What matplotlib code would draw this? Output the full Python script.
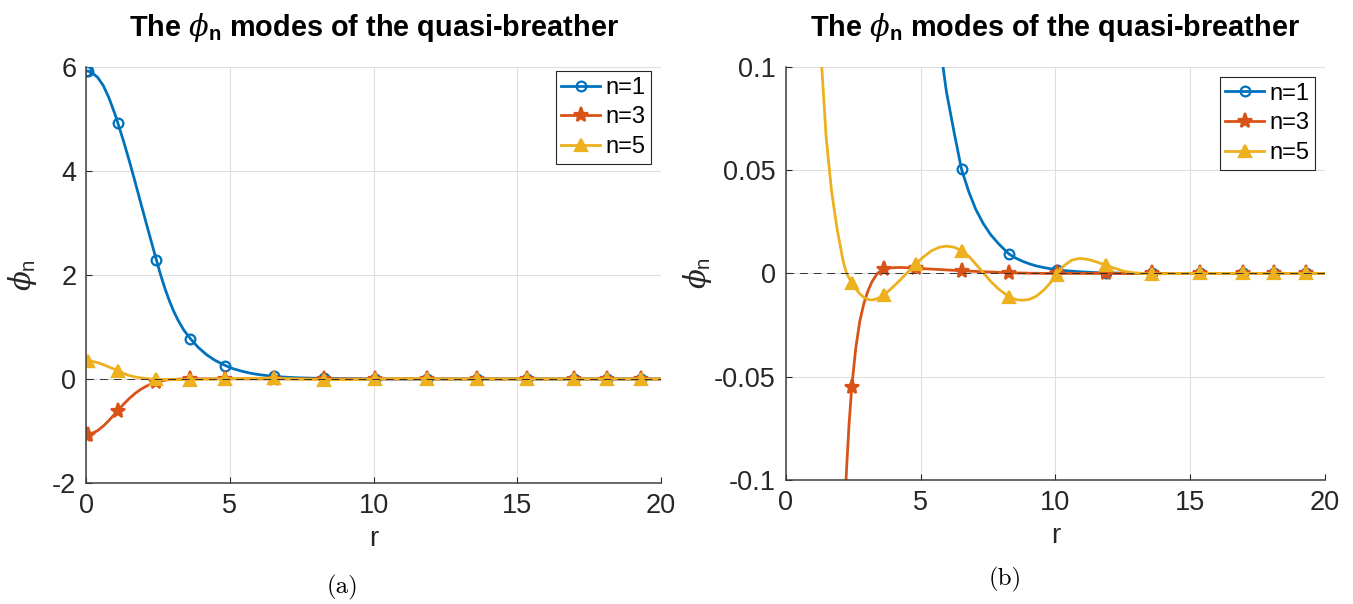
import numpy as np
import matplotlib
matplotlib.use("Agg")
import matplotlib.pyplot as plt

plt.rcParams["font.family"] = ["Liberation Sans", "DejaVu Sans"]
plt.rcParams["mathtext.fontset"] = "custom"
plt.rcParams["mathtext.rm"] = "Liberation Sans"
plt.rcParams["mathtext.it"] = "DejaVu Serif:italic"
plt.rcParams["mathtext.bf"] = "Liberation Sans:bold"
plt.rcParams["axes.unicode_minus"] = False

# radial grid and mode values
r = [0, 0.06, 0.2, 0.4, 0.6, 0.8, 1.0, 1.1, 1.3, 1.5, 1.7, 1.9, 2.1, 2.16,
     2.26, 2.35, 2.45, 2.6, 2.75, 2.9, 3.05, 3.2, 3.4, 3.63, 3.9, 4.2, 4.48,
     4.85, 5.1, 5.4, 5.7, 5.96, 6.25, 6.52, 6.8, 7.05, 7.32, 7.6, 7.9, 8.28,
     8.55, 8.8, 9.05, 9.3, 9.55, 9.8, 10.05, 10.3, 10.6, 10.9, 11.2, 11.5,
     11.87, 12.2, 12.5, 12.9, 13.6, 14.5, 15.35, 16.97, 18.12, 19.3, 20]

phi1 = [5.92, 5.92, 5.89, 5.80, 5.64, 5.40, 5.10, 4.93, 4.58, 4.20, 3.80, 3.39,
        2.98, 2.86, 2.66, 2.48, 2.28, 1.99, 1.73, 1.50, 1.30, 1.13, 0.94, 0.775,
        0.608, 0.463, 0.36, 0.257, 0.2, 0.152, 0.113, 0.088, 0.068, 0.0504,
        0.0392, 0.031, 0.0243, 0.0188, 0.0143, 0.0094, 0.0073, 0.0058, 0.0046,
        0.0036, 0.0029, 0.0023, 0.0018, 0.0014, 0.0011, 0.0008, 0.0006, 0.0004,
        0.0003, 0.0002, 0.0001, 0.0, 0.0, 0.0, 0.0, 0.0, 0.0, 0.0, 0.0]

phi3 = [-1.07, -1.07, -1.05, -0.993, -0.905, -0.795, -0.673, -0.61, -0.488,
        -0.377, -0.28, -0.2, -0.138, -0.122, -0.094, -0.073, -0.055, -0.036,
        -0.023, -0.0145, -0.0085, -0.004, 0.0, 0.002, 0.0027, 0.0029, 0.0028,
        0.0025, 0.0023, 0.0021, 0.0019, 0.0017, 0.0015, 0.0013, 0.0011, 0.001,
        0.0008, 0.0007, 0.0005, 0.0003, 0.0002, 0.0002, 0.0001, 0.0001, 0.0,
        0.0, 0.0, 0.0, 0.0, 0.0, 0.0, 0.0, 0.0, 0.0, 0.0, 0.0, 0.0, 0.0, 0.0,
        0.0, 0.0, 0.0, 0.0]

phi5 = [0.35, 0.35, 0.34, 0.315, 0.275, 0.23, 0.185, 0.16, 0.108, 0.066, 0.04,
        0.022, 0.008, 0.0045, 0.0, -0.0022, -0.0045, -0.0075, -0.0099, -0.0116,
        -0.0126, -0.0129, -0.0122, -0.0105, -0.0075, -0.0038, 0.0, 0.0048,
        0.0079, 0.0109, 0.0127, 0.0132, 0.0127, 0.011, 0.0082, 0.0045, 0.0005,
        -0.0038, -0.0076, -0.0113, -0.0127, -0.013, -0.0125, -0.011, -0.0083,
        -0.0048, -0.0006, 0.0035, 0.0064, 0.0073, 0.0068, 0.0057, 0.004, 0.0025,
        0.0012, 0.0003, -0.0003, 0.0, 0.0, 0.0, 0.0, 0.0, 0.0]

r_marks = [0, 0.06, 1.1, 2.45, 3.63, 4.85, 6.52, 8.28, 10.05, 11.87, 13.6,
           15.35, 16.97, 18.12, 19.3]

labels = ["n=1", "n=3", "n=5"]
colors = ["#0072BD", "#D95319", "#EDB120"]

mark_idx = [int(i) for i in np.where(np.isin(r, r_marks))[0]]
title = r"The $\phi_{\mathbf{n}}$ modes of the quasi-breather"
axis_col = "#262626"

fig = plt.figure(figsize=(13.53, 6.04), dpi=100)
ax_a = fig.add_axes([0.0636, 0.2003, 0.425, 0.689])
ax_b = fig.add_axes([0.5807, 0.2053, 0.3986, 0.684])


def style_axis(ax, ylim, yticks, yticklabels, leg_anchor, ylab_x, xlab_y):
    series = [(phi1, "o", 7, "none"), (phi3, "*", 11, None), (phi5, "^", 8, None)]
    for (vals, mk, ms, mfc), lab, col in zip(series, labels, colors):
        ax.plot(r, vals, color=col, lw=2.0, marker=mk, ms=ms,
                mfc=col if mfc is None else mfc, mew=1.6, markevery=mark_idx,
                label=lab)
    ax.axhline(0, color="#333333", lw=0.7, dashes=(8, 6), zorder=5)

    ax.set_xlim(0, 20)
    ax.set_ylim(*ylim)
    ax.set_xticks([0, 5, 10, 15, 20])
    ax.set_yticks(yticks)
    ax.set_yticklabels(yticklabels)
    ax.grid(True, color="#dedede", lw=0.8)
    ax.set_axisbelow(True)
    for side in ["top", "right"]:
        ax.spines[side].set_visible(False)
    for side in ["left", "bottom"]:
        ax.spines[side].set_color("#404040")
        ax.spines[side].set_linewidth(1.1)
    ax.tick_params(direction="in", length=4, width=0.8, colors=axis_col,
                   labelsize=19.5, pad=7)
    ax.set_xlabel("r", fontsize=20, color=axis_col, va="top")
    ax.xaxis.set_label_coords(0.5, xlab_y)
    ax.set_ylabel(r"$\phi_{\mathrm{n}}$", fontsize=21, color=axis_col, va="center")
    ax.yaxis.set_label_coords(ylab_x, 0.5)
    ax.set_title(title, fontsize=20.8, fontweight="bold", pad=22)
    leg = ax.legend(loc="upper right", bbox_to_anchor=leg_anchor, fontsize=17,
                    frameon=True, fancybox=False, edgecolor="#262626",
                    framealpha=1, handlelength=1.65, handletextpad=0.2,
                    labelspacing=0.32, borderpad=0.25, borderaxespad=0)
    leg.get_frame().set_linewidth(0.8)


style_axis(ax_a, (-2, 6), [-2, 0, 2, 4, 6], ["-2", "0", "2", "4", "6"],
           (0.9826, 0.990), -0.111, -0.103)
style_axis(ax_b, (-0.1, 0.1), [-0.1, -0.05, 0, 0.05, 0.1],
           ["-0.1", "-0.05", "0", "0.05", "0.1"],
           (0.9815, 0.9758), -0.164, -0.104)

fig.text(0.2535, 0.028, "(a)", fontsize=18, family="cmr10", ha="center", va="center")
fig.text(0.743, 0.040, "(b)", fontsize=18, family="cmr10", ha="center", va="center")

fig.savefig("out.png", dpi=100)
